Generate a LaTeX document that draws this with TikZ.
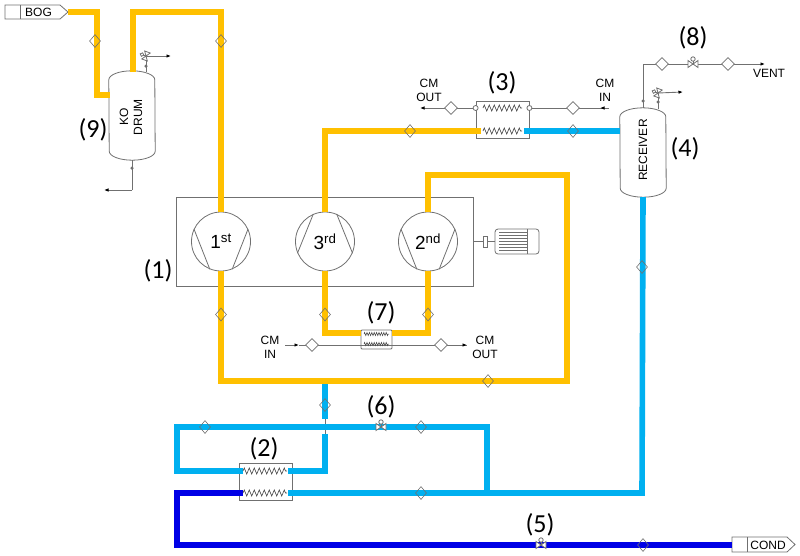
\documentclass[tikz,border=0pt]{standalone}
\usepackage{fontspec}
\setmainfont{Liberation Sans}
\newfontfamily\numfont{Carlito}
\usetikzlibrary{arrows.meta,shapes.geometric,decorations.pathmorphing}

\definecolor{bogyellow}{HTML}{FFC000}
\definecolor{liqblue}{HTML}{00B0F0}
\definecolor{condblue}{HTML}{0000E6}
\definecolor{equipgray}{HTML}{707070}

\tikzset{
  equip/.style={draw=equipgray, line width=0.8pt},
  thinline/.style={draw=equipgray, line width=0.9pt},
  gasline/.style={draw=bogyellow, line width=5.6pt},
  liqline/.style={draw=liqblue, line width=5.6pt},
  condline/.style={draw=condblue, line width=5.6pt},
  tap/.style={shape=diamond, draw=equipgray, line width=0.6pt, inner sep=0pt, minimum width=11pt, minimum height=13pt},
  cmtap/.style={shape=diamond, draw=equipgray, line width=0.8pt, fill=white, inner sep=0pt, minimum width=13pt, minimum height=13pt},
  numlab/.style={font=\numfont\fontsize{26}{26}\selectfont},
  txtlab/.style={font=\fontsize{12}{14}\selectfont, align=center, inner sep=0pt},
  comp/.style={shape=circle, equip, fill=white, inner sep=0pt, minimum size=59pt, font=\fontsize{19}{19}\selectfont},
  hxbox/.style={shape=rectangle, equip, inner sep=0pt},
  vessel/.style={shape=rectangle, inner sep=0pt},
  coil/.style={draw=black!75, line width=0.6pt, decorate, decoration={zigzag, segment length=5pt, amplitude=3pt}},
  smallcoil/.style={draw=black!75, line width=0.5pt, decorate, decoration={zigzag, segment length=2.4pt, amplitude=1.6pt}},
  pipedot/.style={shape=circle, fill=equipgray, inner sep=0pt, minimum size=3.5pt},
  valvesym/.pic={
    \draw [equip, fill=white] (-5,-3.5) -- (5,3.5) -- (5,-3.5) -- (-5,3.5) -- cycle;
    \draw [equip, fill=white] (0,-5) circle [radius=2.2pt];
    \draw [equip] (0,-3) -- (0,0);
  }
}

\newcommand{\vesselbody}[1]{
  \draw [equip, fill=white] ([yshift=-9pt]#1.north west) arc [start angle=180, end angle=0, x radius=23pt, y radius=9pt]
    -- ([yshift=9pt]#1.south east) arc [start angle=0, end angle=-180, x radius=23pt, y radius=9pt] -- cycle;
}

\begin{document}
\begin{tikzpicture}[x=1pt, y=-1pt, >={Latex[length=4.5pt,width=3.5pt,black]}]
\useasboundingbox (0,0) rectangle (800,555);
%\draw (0,0) grid (800,555);

% compressor casing and motor
\node [hxbox, minimum width=297pt, minimum height=89pt] (casing) at (325,241.5) {};
\node [equip, shape=rectangle, inner sep=0pt, minimum width=4pt, minimum height=11pt] (coupling) at (485,241.5) {};
\node [equip, shape=rectangle, rounded corners=3pt, inner sep=0pt, minimum width=44pt, minimum height=25pt] (motor) at (517,241.5) {};
\draw [equip] (casing.east |- coupling) -- (coupling.west);
\draw [equip] (coupling.east) -- (motor.west);
\foreach \yy in {232,235,...,252} {\draw [equipgray, line width=0.5pt] (499,\yy) -- (527,\yy);}
\draw [equip] (527,229) -- (527,254);

% exchanger shells
\node [hxbox, minimum width=53pt, minimum height=37pt] (hx3) at (502.5,119.5) {};
\node [hxbox, minimum width=53pt, minimum height=37pt] (hx2) at (265.5,481.5) {};
\node [hxbox, minimum width=31pt, minimum height=19pt, rounded corners=1pt] (hx7) at (376.5,339.5) {};

% vessels
\node [vessel, minimum width=46pt, minimum height=89pt] (kodrum) at (132,115.5) {};
\node [vessel, minimum width=46pt, minimum height=89pt] (receiver) at (643,152.5) {};
\vesselbody{kodrum}
\vesselbody{receiver}
\node [txtlab, rotate=90] (kotext) at (131,117) {KO\\DRUM};
\node [txtlab, rotate=90] (rectext) at (643,150) {RECEIVER};

% compressors
\node [comp] (comp1) at (221,241.5) {1\textsuperscript{st}};
\node [comp] (comp3) at (325,241.5) {3\textsuperscript{rd}};
\node [comp] (comp2) at (428,241.5) {2\textsuperscript{nd}};
\foreach \cc/\aa/\bb/\dd/\ee in {comp1/155/248/25/292, comp2/155/248/25/292, comp3/113/203/67/-23} {
  \draw [equip] (\cc.\aa) -- (\cc.\bb);
  \draw [equip] (\cc.\dd) -- (\cc.\ee);
}

% end tags
\draw [equip] (5,5) -- (60,5) -- (68,12) -- (60,19) -- (5,19) -- cycle; \draw [equip] (20,5) -- (20,19);
\node [txtlab] (bog) at (38.5,12) {BOG};
\draw [equip] (732,537) -- (787,537) -- (795,544.5) -- (787,552) -- (732,552) -- cycle; \draw [equip] (747,537) -- (747,552);
\node [txtlab] (cond) at (768,545) {COND};

% junctions
\coordinate (bogend) at (68,12); \coordinate (bogA) at (97,12); \coordinate (bogB) at (97,95); \coordinate (kain) at (110,95);
\coordinate (koout) at (133,72); \coordinate (koA) at (133,12); \coordinate (koB) at (221,12);
\coordinate (dis3a) at (325,131); \coordinate (hx3l) at (481,131); \coordinate (hx3r) at (524,131); \coordinate (recin) at (620,131);
\coordinate (twoA) at (428,175); \coordinate (twoB) at (567,175); \coordinate (twoC) at (567,381); \coordinate (oneC) at (221,381);
\coordinate (sevA) at (325,333); \coordinate (sevB) at (428,333);
\coordinate (mixtop) at (325,384); \coordinate (mixgapA) at (325,419); \coordinate (mixgapB) at (325,434); \coordinate (mixC) at (325,471);
\coordinate (hx2ur) at (288,471); \coordinate (hx2ul) at (243,471); \coordinate (leftA) at (177,471); \coordinate (leftB) at (177,427);
\coordinate (v6) at (381,427); \coordinate (rightA) at (487,427); \coordinate (rightB) at (487,493);
\coordinate (hx2lr) at (288,493); \coordinate (hx2ll) at (243,493); \coordinate (recA) at (642,493);
\coordinate (dkA) at (177,493); \coordinate (dkB) at (177,545); \coordinate (v5) at (541,545); \coordinate (dkC) at (732,545);
\coordinate (v8) at (693,64); \coordinate (ventA) at (643,64); \coordinate (ventB) at (765,64);
\coordinate (relko) at (146,56); \coordinate (relrec) at (658,93);
\coordinate (relkoend) at (171,56); \coordinate (relrecend) at (683,92); \coordinate (koA2) at (132,190); \coordinate (kodrain) at (104,190);
\coordinate (cm3a) at (420,108); \coordinate (cm3b) at (609,108);
\coordinate (cm7a) at (285,345); \coordinate (cm7b) at (467,345);

% thin lines
\draw [thinline] (kodrum.south) -- (koA2); \draw [thinline, ->] (koA2) -- (kodrain);
\draw [thinline, ->] (relko) -- (relkoend); \draw [thinline] (relko) -- (146,72);
\draw [thinline, ->] (relrec) -- (relrecend); \draw [thinline] (relrec) -- (658,109);
\draw [thinline] (643,108) -- (ventA); \draw [thinline, ->] (ventA) -- (ventB);
\draw [thinline, ->] (hx3.west |- cm3a) -- (cm3a);
\draw [thinline] (hx3.east |- cm3b) -- (cm3b);
\draw [thinline, ->] (cm3b) -- (600,108);
\draw [thinline, ->] (cm7a) -- (299,345); \draw [thinline] (299,345) -- (cm7b); \draw [thinline, ->] (430,345) -- (cm7b);
\draw [equipgray, line width=0.6pt] (mixgapA) -- (mixgapB);

% yellow pipes
\draw [gasline] (bogend) -- (bogA) -- (bogB) -- (kain);
\draw [gasline] (koout) -- (koA) -- (koB) -- (comp1.north);
\draw [gasline] (comp1.south) -- (oneC) -- (twoC) -- (twoB) -- (twoA) -- (comp2.north);
\draw [gasline] (hx3l) -- (dis3a) -- (comp3.north);
\draw [gasline] (comp3.south) -- (sevA) -- (hx7.west |- sevA);
\draw [gasline] (hx7.east |- sevB) -- (sevB) -- (comp2.south);

% blue pipes
\draw [liqline] (hx3r) -- (recin);
\draw [liqline] (mixtop) -- (mixgapA);
\draw [liqline] (mixgapB) -- (mixC) -- (hx2ur);
\draw [liqline] (hx2ul) -- (leftA) -- (leftB) -- (rightA) -- (rightB);
\draw [liqline] (hx2lr) -- (recA) -- (receiver.south);
\draw [condline] (hx2ll) -- (dkA) -- (dkB) -- (dkC);

% coils
\draw [coil] (483,108) -- (522,108);
\draw [coil] (483,131) -- (522,131);
\draw [coil] (243,471) -- (287,471);
\draw [coil] (243,493) -- (287,493);
\draw [smallcoil] (364,334) -- (389,334);
\draw [smallcoil] (364,344) -- (389,344);

% flow element marks
\foreach \xx/\yy/\nm in {95/41/t1, 221/41/t2, 410/131/t3, 573/131/t4, 221/314.5/t5, 325/314.5/t6, 428/314.5/t7, 488/381/t8, 642/267/t9, 325/405/t10, 205/427/t11, 421/427/t12, 421/493/t13, 643/545/t14} {
  \node [tap] (\nm) at (\xx,\yy) {};
}
\foreach \xx/\yy/\nm in {451/108/c1, 573/108/c2, 312/345/c3, 441/345/c4, 662/64/c5, 728/64/c6} {
  \node [cmtap] (\nm) at (\xx,\yy) {};
}

% small dots
\node [pipedot] (dotA) at (132,168) {}; \node [pipedot] (dotB) at (146,66) {};
\node [pipedot] (dotC) at (643,101) {}; \node [pipedot] (dotD) at (658,102) {};
\draw [equip, fill=white] (hx3.west |- cm3a) circle [radius=2.5pt];
\draw [equip, fill=white] (hx3.east |- cm3b) circle [radius=2.5pt];

% valves
\pic at (v5) {valvesym};
\pic at (v6) {valvesym};
\pic at (v8) {valvesym};
\pic [rotate=70, scale=0.85] at (relko) {valvesym};
\pic [rotate=70, scale=0.85] at (relrec) {valvesym};

% labels
\node [txtlab] (cmout3) at (429,90) {CM\\OUT};
\node [txtlab] (cmin3) at (605,90) {CM\\IN};
\node [txtlab] (cmin7) at (270,347) {CM\\IN};
\node [txtlab] (cmout7) at (485,347) {CM\\OUT};
\node [txtlab] (vent) at (769,73) {VENT};

\node [numlab] (n1) at (158,271) {(1)};
\node [numlab] (n2) at (264,449) {(2)};
\node [numlab] (n3) at (502,83) {(3)};
\node [numlab] (n4) at (685,149) {(4)};
\node [numlab] (n5) at (540,525) {(5)};
\node [numlab] (n6) at (381,407) {(6)};
\node [numlab] (n7) at (381,313) {(7)};
\node [numlab] (n8) at (693,38) {(8)};
\node [numlab] (n9) at (93,130) {(9)};

\end{tikzpicture}
\end{document}
